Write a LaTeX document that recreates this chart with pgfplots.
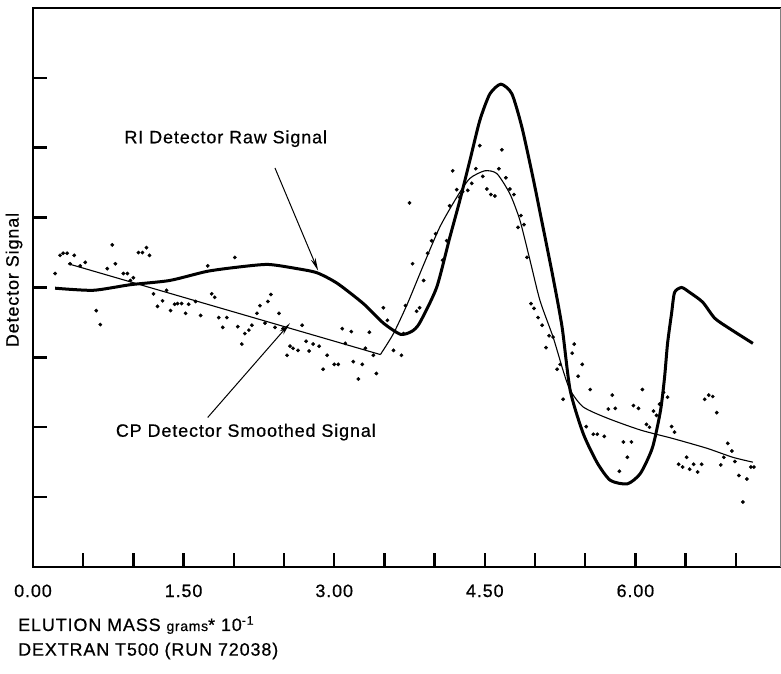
\documentclass[border=0pt]{standalone}
\usepackage{fontspec}
\setmainfont{Liberation Sans}[LetterSpace=5, FakeBold=0.6]
\usepackage{pgfplots}
\pgfplotsset{compat=1.18}
\usetikzlibrary{arrows.meta}
\newcommand\lbl{\fontsize{18}{21}\selectfont}

\begin{document}
\begin{tikzpicture}
\useasboundingbox (-33bp,-107bp) rectangle (748bp,567bp);
\begin{axis}[
    at={(0,0)}, anchor=south west,
    scale only axis,
    width=747bp, height=559bp,
    xmin=0, xmax=7.44, ymin=0, ymax=8,
    axis line style={draw=none},
    xtick={0,0.5,...,7},
    xticklabels={0.00,,,1.50,,,3.00,,,4.50,,,6.00,,},
    ytick={1,2,3,4,5,6,7}, yticklabels={},
    tick align=inside, xtick pos=bottom, ytick pos=left,
    major tick length=14bp,
    tick style={line width=2.5bp, black},
    xticklabel style={font=\lbl, yshift=-14bp},
    clip=false,
]
% frame
\draw[line width=2.5bp, line cap=rect] (rel axis cs:1,1) -- (rel axis cs:0,1) -- (rel axis cs:0,0) -- (rel axis cs:1,0);
\draw[line width=0.6bp, gray] (rel axis cs:1,0) -- (rel axis cs:1,1);

% CP detector raw points
\addplot[only marks, mark=*, mark size=1.7bp, black] coordinates {
(0.22,4.20) (0.27,4.46) (0.30,4.49) (0.34,4.49) (0.41,4.46) (0.37,4.34) (0.47,4.31) (0.52,4.36)
(0.79,4.61) (0.74,4.27) (0.82,4.34) (0.90,4.20) (0.94,4.20) (0.97,4.10) (1.00,4.14) (0.63,3.67)
(0.67,3.47) (1.05,4.50) (1.09,4.50) (1.13,4.57) (1.16,4.46) (1.20,3.91) (1.24,3.73) (1.29,3.81)
(1.33,3.96) (1.37,3.67) (1.41,3.76) (1.44,3.77) (1.48,3.77) (1.52,3.63) (1.55,3.76) (1.62,3.80)
(1.67,3.60) (1.74,4.31) (1.78,3.91) (1.81,3.86) (1.85,3.57) (1.89,3.43) (1.93,3.57) (2.01,4.43)
(2.04,3.44) (2.08,3.19) (2.11,3.34) (2.15,3.39) (2.18,3.46) (2.23,3.63) (2.26,3.74) (2.34,3.80)
(2.37,3.90) (2.31,3.49) (2.41,3.43) (2.45,3.63) (2.49,3.41) (2.53,3.03) (2.56,3.16) (2.59,3.13)
(2.64,3.10) (2.68,3.46) (2.72,3.23) (2.75,3.09) (2.79,3.19) (2.85,3.16) (2.89,2.83) (2.93,3.03)
(3.00,2.90) (3.04,2.90) (3.08,3.41) (3.11,3.20) (3.17,3.37) (3.19,2.94) (3.24,2.69) (3.28,2.90)
(3.31,3.13) (3.35,3.36) (3.39,3.03) (3.42,2.77) (3.49,3.71) (3.53,3.53) (3.59,3.10) (3.67,3.03)
(3.69,3.34) (3.71,3.74) (3.75,5.21) (3.78,4.34) (3.82,3.66) (3.85,3.71) (3.89,4.10) (3.93,4.49)
(3.97,4.67) (4.01,4.77) (4.08,4.39) (4.12,4.67) (4.15,5.17) (4.18,5.67) (4.22,5.40) (4.25,5.29)
(4.28,5.37) (4.33,5.39) (4.37,5.49) (4.41,5.70) (4.45,6.03) (4.48,5.59) (4.52,5.41) (4.56,5.33)
(4.60,5.31) (4.64,5.70) (4.67,5.97) (4.71,5.57) (4.75,5.41) (4.79,5.33) (4.83,4.86) (4.86,5.03)
(4.89,4.90) (4.92,4.43) (4.96,3.77) (4.99,3.70) (5.03,3.57) (5.07,3.46) (5.11,3.14) (5.14,3.31)
(5.18,3.29) (5.22,2.83) (5.25,2.90) (5.28,2.40) (5.37,3.06) (5.39,3.19) (5.43,2.73) (5.47,2.90)
(5.51,2.01) (5.55,2.54) (5.58,1.90) (5.62,1.90) (5.69,1.87) (5.73,2.26) (5.77,2.46) (5.80,2.27)
(5.84,1.37) (5.88,1.79) (5.92,1.57) (5.96,1.79) (5.98,2.31) (6.03,2.27) (6.07,2.54) (6.11,2.04)
(6.14,2.00) (6.18,2.23) (6.21,2.17) (6.24,2.33) (6.28,2.50) (6.32,2.43) (6.36,2.01) (6.39,1.93)
(6.43,1.47) (6.47,1.43) (6.51,1.57) (6.54,1.40) (6.58,1.47) (6.62,1.36) (6.66,1.47) (6.69,2.40)
(6.73,2.46) (6.77,2.44) (6.81,2.21) (6.85,1.46) (6.88,1.57) (6.92,1.77) (6.96,1.66) (6.99,1.51)
(7.03,1.31) (7.07,0.93) (7.11,1.26) (7.15,1.43) (7.18,1.43)
};

% RI detector raw signal
\addplot[line width=3bp, smooth, tension=0.4] coordinates {
(0.22,3.99) (0.60,3.96) (0.97,4.04) (1.36,4.10) (1.73,4.23) (2.03,4.29) (2.34,4.33) (2.63,4.27)
(2.83,4.21) (3.03,4.06) (3.29,3.77) (3.49,3.49) (3.66,3.33) (3.77,3.37) (3.85,3.49) (4.02,4.00)
(4.15,4.71) (4.25,5.24) (4.35,5.81) (4.45,6.39) (4.55,6.77) (4.66,6.91) (4.77,6.77) (4.87,6.29)
(4.98,5.57) (5.08,4.86) (5.18,4.14) (5.27,3.43) (5.35,2.53) (5.48,1.91) (5.62,1.49) (5.75,1.24)
(5.92,1.19) (6.05,1.34) (6.17,1.71) (6.25,2.24) (6.29,2.71) (6.32,3.20) (6.36,3.63) (6.39,3.93)
(6.46,4.00) (6.54,3.93) (6.67,3.79) (6.79,3.56) (6.94,3.41) (7.17,3.20)
};

% CP detector smoothed signal
\addplot[line width=1.1bp] coordinates {(0.35,4.34) (3.46,3.04)};
\addplot[line width=1.1bp, smooth, tension=0.4] coordinates {
(3.46,3.04) (3.59,3.34) (3.73,3.77) (3.88,4.29) (4.05,4.86) (4.22,5.29) (4.35,5.56) (4.50,5.67)
(4.62,5.63) (4.75,5.34) (4.85,4.96) (4.95,4.39) (5.05,3.81) (5.18,3.29) (5.28,2.81) (5.35,2.53)
(5.48,2.29) (5.72,2.13) (6.05,1.96) (6.37,1.84) (6.71,1.70) (6.97,1.57) (7.17,1.50)
};

\node[font=\lbl] at (axis cs:1.92,6.13) {RI Detector Raw Signal};
\draw[line width=1bp, -{Stealth[length=13bp,width=5bp]}] (axis cs:2.41,5.71) -- (axis cs:2.84,4.24);
\node[font=\lbl] at (axis cs:2.12,1.93) {CP Detector Smoothed Signal};
\draw[line width=1bp, -{Stealth[length=13bp,width=5bp]}] (axis cs:1.74,2.14) -- (axis cs:2.56,3.49);
\end{axis}

\node[font=\lbl, rotate=90] at (-19bp,287bp) {Detector Signal};
\node[font=\lbl, anchor=west, inner sep=0pt] at (-15bp,-58bp) {ELUTION MASS {\fontsize{14}{16}\selectfont grams}* 10\textsuperscript{-1}};
\node[font=\lbl, anchor=west, inner sep=0pt] at (-15bp,-84bp) {DEXTRAN T500 (RUN 72038)};
\end{tikzpicture}
\end{document}
